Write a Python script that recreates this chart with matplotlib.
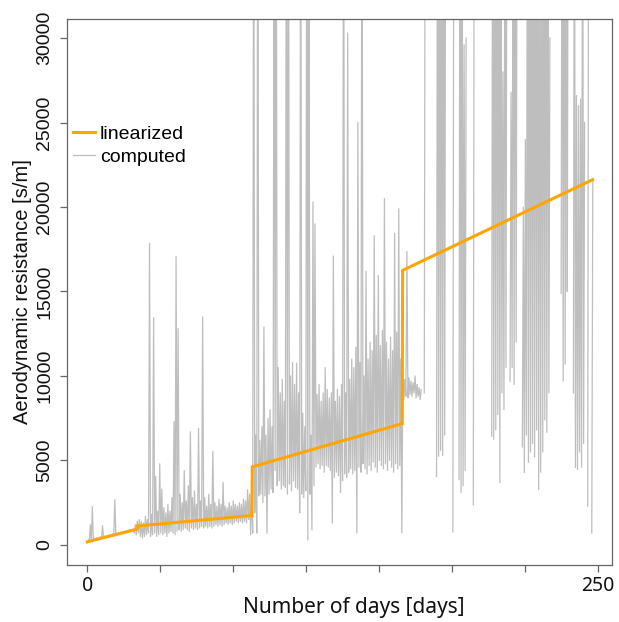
"""Aerodynamic resistance: computed series vs. piecewise linearized fit."""

import numpy as np
import matplotlib

matplotlib.use("Agg")
import matplotlib.pyplot as plt

# computed resistance, read per day as (lowest, highest) value [s/m];
# None = no data that day, 45000 = runs off the top of the chart
comp_day = list(range(248))
comp_min = [
    150, 180, 220, 250, 280, 300, 330, 370, 400, 430,          # 0
    460, 500, 520, 560, 590, 620, 650, 680, 720, 750,          # 10
    780, 810, 840, 700, 600, 700, 500, 400, 500, 600,          # 20
    700, 500, 600, 700, 500, 600, 700, 600, 700, 500,          # 30
    700, 800, 700, 600, 800, 900, 800, 900, 1000, 900,         # 40
    800, 1000, 900, 1000, 900, 1000, 1100, 1000, 1100, 1000,   # 50
    1100, 1000, 1100, 1200, 1100, 1200, 1100, 1200, 1300, 1200,  # 60
    1300, 1200, 1300, 1400, 1300, 1400, 1300, 1400, 1300, 1500,  # 70
    600, 690, 1900, 700, 2900, 3000, 2500, 2900, 690, 3000,    # 80
    3300, 3100, 4400, 3500, 3800, 3300, 3500, 3400, 3000, 3600,  # 90
    3200, 3800, 3400, 3300, 1900, 3000, 2800, 3200, 300, 3000,   # 100
    890, 3500, 4600, 4800, 4500, 4700, 4300, 4700, 4600, 4400,   # 110
    1300, 4000, 4300, 4100, 3100, 3800, 4200, 4000, 4300, 4500,  # 120
    4200, 4400, 700, 4600, 4300, 4800, 4500, 4200, 4700, 4400,   # 130
    4900, 4600, 4300, 5000, 4700, 4500, 4800, 4400, 5000, 4600,  # 140
    4300, 4800, 4500, 4700, 700, 8600, 8800, 8700, 8900, 8800,   # 150
    9000, 8700, 8800, 8600, None, 9000, None, None, None, None,  # 160
    None, 4050, 5240, 5600, 5300, 6500, None, None, None, 770,   # 170
    None, None, 3870, 3100, 3500, 4400, None, None, None, 2380,  # 180
    None, None, None, None, None, None, None, None, 6430, 6250,  # 190
    6800, 7700, 3690, 9000, 8000, 10500, None, 9700, 10500, 9500,  # 200
    12000, None, None, 5800, 4280, 6500, 4880, 5500, 6000, 5200,   # 210
    6800, 3270, 4300, 5500, 7400, 6660, 9000, None, None, None,    # 220
    None, None, 14900, 9700, 10700, 15000, None, None, 9000, 4580,  # 230
    4460, 5500, 4600, 6000, None, 2300, None, 700,                  # 240
]
comp_max = [
    300, 1190, 2260, 400, 420, 450, 480, 1130, 520, 550,         # 0
    580, 620, 650, 2680, 700, 730, 760, 790, 820, 850,           # 10
    880, 910, 940, 1200, 1400, 1500, 1400, 1300, 1700, 1500,     # 20
    17850, 1800, 13450, 4050, 2000, 4800, 3300, 2200, 1900, 2400,  # 30
    2000, 2800, 7300, 17080, 12800, 3000, 2500, 4400, 2600, 3500,  # 40
    6700, 2800, 3200, 2400, 6900, 2600, 13500, 2800, 2300, 3000,   # 50
    2400, 5530, 2500, 2300, 2700, 2400, 3700, 2300, 2200, 2500,    # 60
    2300, 2600, 2400, 2300, 2500, 2400, 2700, 2600, 3270, 3000,    # 70
    3200, 45000, 6500, 45000, 6200, 7000, 12900, 6500, 7500, 8000,  # 80
    7000, 45000, 45000, 10500, 9000, 9800, 8500, 45000, 45000, 10000,  # 90
    10800, 9500, 10760, 9000, 45000, 7800, 7000, 45000, 45000, 6500,   # 100
    20300, 19000, 8900, 9500, 8500, 9000, 10500, 9200, 8700, 9000,     # 110
    17100, 8500, 9200, 8800, 9500, 45000, 9000, 30300, 9800, 11000,    # 120
    10500, 11700, 25000, 10800, 45000, 10000, 16200, 11000, 12000, 11500,  # 130
    18300, 12400, 15950, 11800, 12700, 20500, 12000, 11000, 12300, 11500,  # 140
    18450, 12600, 19900, 11000, 9800, 9800, 17370, 9900, 9700, 9600,       # 150
    10000, 9500, 9300, 9200, None, 45000, None, None, None, None,          # 160
    None, 45000, 45000, 45000, 45000, 45000, None, None, None, 45000,      # 170
    None, None, 45000, 45000, 29600, 30000, None, None, None, 45000,       # 180
    None, None, None, None, None, None, None, None, 45000, 45000,          # 190
    45000, 45000, 45000, 28000, 45000, 45000, None, 26800, 45000, 45000,   # 200
    45000, None, None, 20000, 24000, 45000, 45000, 45000, 45000, 45000,    # 210
    45000, 45000, 45000, 45000, 45000, 45000, 30000, None, None, None,     # 220
    None, None, 45000, 45000, 45000, 45000, None, None, 45000, 26600,      # 230
    26000, 26400, 45000, 25000, None, 45000, None, 21600,                  # 240
]

# linearized resistance (piecewise linear with three jumps)
lin_day = [0, 24.3, 24.6, 80.6, 80.8, 154.2, 154.4, 247.4]
lin_val = [180, 930, 1120, 1740, 4620, 7180, 16250, 21620]

x_ticks = np.linspace(0, 250, 8)
x_labels = ["0", "", "", "", "", "", "", "250"]
y_ticks = [0, 5000, 10000, 15000, 20000, 25000, 30000]


def main():
    plt.rcParams["font.family"] = ["Liberation Sans", "DejaVu Sans"]
    fig = plt.figure(figsize=(6.19, 6.22), dpi=100)
    ax = fig.add_axes([67 / 619, 57 / 622, 545 / 619, 546 / 622])

    lo = np.array(comp_min, dtype=float)
    hi = np.array(comp_max, dtype=float)
    d = np.array(comp_day, dtype=float)
    xs = np.column_stack([d, d + 0.5]).ravel()
    ys = np.column_stack([lo, hi]).ravel()
    ax.plot(xs, ys, color="#bebebe", lw=0.9, label="computed", zorder=2)
    ax.plot(lin_day, lin_val, color="#ffa500", lw=2.2, label="linearized",
            zorder=3, solid_joinstyle="miter")

    ax.set_xlim(-9.9, 256.9)
    ax.set_ylim(-1190, 31130)

    for side in ["left", "right", "top", "bottom"]:
        ax.spines[side].set_color("#666666")
        ax.spines[side].set_linewidth(0.9)

    ax.set_xticks(x_ticks)
    ax.set_xticklabels(x_labels, family=["Noto Sans", "DejaVu Sans"],
                       fontsize=14)
    ax.set_yticks(y_ticks)
    ax.set_yticklabels([str(v) for v in y_ticks], rotation=90, va="center",
                       fontsize=14)
    ax.tick_params(axis="both", direction="out", length=5, width=0.9,
                   color="#666666", labelcolor="#111111")
    ax.tick_params(axis="x", pad=3)
    ax.tick_params(axis="y", pad=5)

    ax.set_xlabel("Number of days [days]", fontsize=15,
                  family=["Noto Sans", "DejaVu Sans"], color="#111111",
                  va="center")
    ax.xaxis.set_label_coords(0.527, -0.077)
    ax.set_ylabel("Aerodynamic resistance [s/m]", fontsize=14.5,
                  color="#111111", va="center")
    ax.yaxis.set_label_coords(-0.081, 0.5)

    handles, labels = ax.get_legend_handles_labels()
    ax.legend(handles[::-1], labels[::-1], loc="upper left",
              bbox_to_anchor=(0.011, 0.806), frameon=False, fontsize=14,
              handlelength=1.13, handletextpad=0.26, labelspacing=0.3,
              borderpad=0, borderaxespad=0)

    fig.savefig("out.png", dpi=100)


if __name__ == "__main__":
    main()
